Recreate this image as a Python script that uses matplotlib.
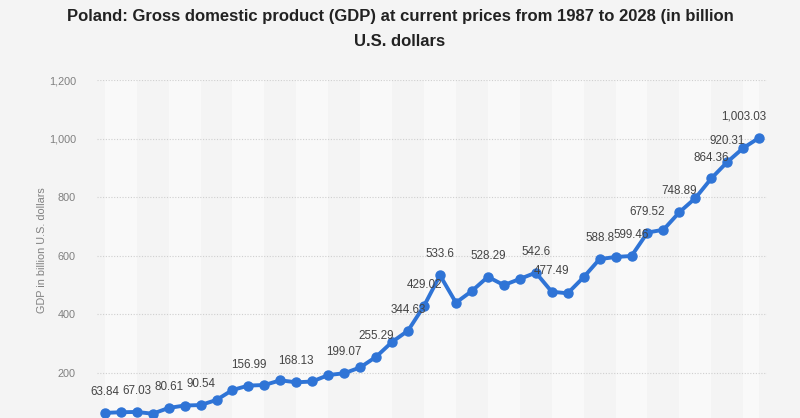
import numpy as np
import matplotlib.pyplot as plt
from matplotlib.ticker import FuncFormatter

plt.rcParams['font.family'] = ['Liberation Sans', 'DejaVu Sans']

years = list(range(1987, 2029))
gdp = [63.84, 66.0, 67.03, 61.0, 80.61, 89.0, 90.54, 108.0, 142.0, 156.99,
       159.0, 175.0, 168.13, 171.0, 193.0, 199.07, 219.0, 255.29, 306.0, 344.63,
       429.02, 533.6, 440.0, 480.0, 528.29, 500.0, 521.0, 542.6, 477.49, 472.0,
       527.0, 588.8, 596.0, 599.46, 679.52, 689.0, 748.89, 797.0, 864.36, 920.31,
       968.0, 1003.03]
labelled_years = [1987, 1989, 1991, 1993, 1996, 1999, 2002, 2004, 2006, 2007,
                  2008, 2011, 2014, 2015, 2018, 2020, 2021, 2023, 2025, 2026, 2028]
y_ticks = [200, 400, 600, 800, 1000, 1200]

title = ("Poland: Gross domestic product (GDP) at current prices from 1987 to 2028 (in billion\n"
         "U.S. dollars")
ylabel = "GDP in billion U.S. dollars"

bg = '#f4f4f4'
band = '#f9f9f9'
blue = '#2f74d6'

fig = plt.figure(figsize=(8, 4.18), dpi=100, facecolor=bg)
ax = fig.add_axes([0.121, -0.0325, 0.838, 0.841])
ax.set_facecolor(bg)

x = np.arange(len(years))
# alternating column bands, two categories wide
for start in range(0, len(years), 4):
    ax.axvspan(start, min(start + 2, len(years) - 1), color=band, lw=0, zorder=0)

ax.plot(x, gdp, color=blue, lw=2.8, marker='o', ms=6.5, zorder=3,
        solid_capstyle='round', solid_joinstyle='round')

for yr in labelled_years:
    i = years.index(yr)
    v = gdp[i]
    dx = -11 if i == len(years) - 1 else 0
    ax.annotate('{:,}'.format(v), (i, v), xytext=(dx, 15), textcoords='offset points',
                ha='center', va='center', fontsize=8.4, color='#444444', zorder=4)

ax.set_xlim(-0.5, len(years) - 0.5)
ax.set_ylim(0, 1200)
ax.set_yticks(y_ticks)
ax.yaxis.set_major_formatter(FuncFormatter(lambda v, p: '{:,}'.format(int(v))))
ax.tick_params(axis='y', length=0, labelsize=7.8, labelcolor='#808080', pad=15)
ax.set_xticks([])
ax.grid(axis='y', color='#cfcfcf', ls=(0, (1, 1.5)), lw=0.8)
ax.set_axisbelow(True)
for s in ax.spines.values():
    s.set_visible(False)

fig.text(42 / 800, 1 - 250 / 418, ylabel, rotation=90, ha='center', va='center',
         fontsize=7.8, color='#808080')
fig.text(0.5, 1 - 29 / 418, title, ha='center', va='center', fontsize=12,
         fontweight='bold', color='#222222', linespacing=1.85)

fig.savefig('out.png', dpi=100, facecolor=bg)
